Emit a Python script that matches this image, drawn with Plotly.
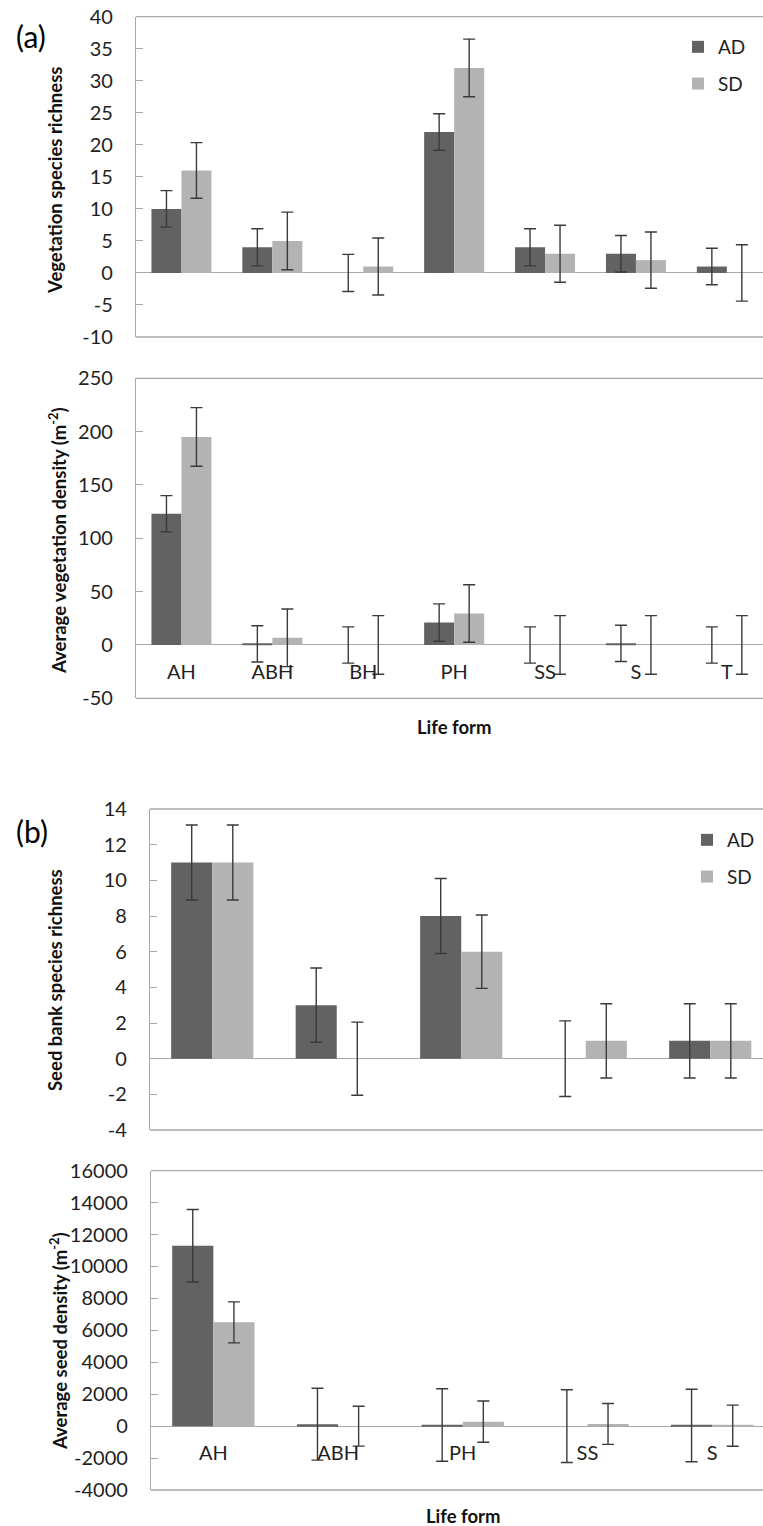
import plotly.graph_objects as go

W, H = 763, 1526
FONT = "Lato"
AD_COLOR = "#626262"
SD_COLOR = "#b3b3b3"
ERR_COLOR = "#3a3a3a"
FRAME = "#a8a8a8"
TICK_SIZE = 20
TITLE_SIZE = 18.5

# ---------------- data ----------------
series_names = ["AD", "SD"]

veg_forms = ["AH", "ABH", "BH", "PH", "SS", "S", "T"]
veg_rich_AD = [10, 4, 0, 22, 4, 3, 1]
veg_rich_AD_err = [2.85, 2.9, 2.9, 2.85, 2.9, 2.85, 2.85]
veg_rich_SD = [16, 5, 1, 32, 3, 2, 0]
veg_rich_SD_err = [4.35, 4.5, 4.45, 4.5, 4.45, 4.4, 4.4]
veg_rich_ticks = [-10, -5, 0, 5, 10, 15, 20, 25, 30, 35, 40]

veg_dens_AD = [123, 1, 0, 21, 0, 1.5, 0]
veg_dens_AD_err = [17, 17, 17, 17.5, 17, 17, 17]
veg_dens_SD = [195, 6.7, 0, 29.5, 0, 0, 0]
veg_dens_SD_err = [27.5, 27, 27.5, 27, 27.5, 27.5, 27.5]
veg_dens_ticks = [-50, 0, 50, 100, 150, 200, 250]

seed_forms = ["AH", "ABH", "PH", "SS", "S"]
seed_rich_AD = [11, 3, 8, 0, 1]
seed_rich_AD_err = [2.1, 2.08, 2.1, 2.12, 2.08]
seed_rich_SD = [11, 0, 6, 1, 1]
seed_rich_SD_err = [2.1, 2.05, 2.06, 2.08, 2.08]
seed_rich_ticks = [-4, -2, 0, 2, 4, 6, 8, 10, 12, 14]

seed_dens_AD = [11300, 120, 70, 0, 40]
seed_dens_AD_err = [2270, 2250, 2270, 2275, 2275]
seed_dens_SD = [6500, 0, 280, 140, 30]
seed_dens_SD_err = [1283, 1250, 1290, 1280, 1285]
seed_dens_ticks = [-4000, -2000, 0, 2000, 4000, 6000, 8000, 10000, 12000, 14000, 16000]

# ---------------- layout geometry (pixels) ----------------
panels = [
    dict(left=136, top=16.7, bottom=337, cats=veg_forms, ad=veg_rich_AD, ade=veg_rich_AD_err,
         sd=veg_rich_SD, sde=veg_rich_SD_err, ticks=veg_rich_ticks,
         title="Vegetation species richness", tcy=180, tcx=55, xlabels=False, legend="legend", catw=90.9),
    dict(left=136, top=378.3, bottom=698.3, cats=veg_forms, ad=veg_dens_AD, ade=veg_dens_AD_err,
         sd=veg_dens_SD, sde=veg_dens_SD_err, ticks=veg_dens_ticks,
         title="Average vegetation density (m<sup>-2</sup>)", tcy=541, tcx=57, xlabels=True, legend=None, catw=90.9),
    dict(left=150, top=809, bottom=1130, cats=seed_forms, ad=seed_rich_AD, ade=seed_rich_AD_err,
         sd=seed_rich_SD, sde=seed_rich_SD_err, ticks=seed_rich_ticks,
         title="Seed bank species richness", tcy=980, tcx=55, xlabels=False, legend="legend2", catw=124.5),
    dict(left=151, top=1170.7, bottom=1490, cats=seed_forms, ad=seed_dens_AD, ade=seed_dens_AD_err,
         sd=seed_dens_SD, sde=seed_dens_SD_err, ticks=seed_dens_ticks,
         title="Average seed density (m<sup>-2</sup>)", tcy=1341, tcx=58, xlabels=True, legend=None, catw=124.7),
]

fig = go.Figure()
annotations = []
shapes = []
layout = {}

for i, p in enumerate(panels, start=1):
    xa = "x" if i == 1 else f"x{i}"
    ya = "y" if i == 1 else f"y{i}"
    xkey = "xaxis" if i == 1 else f"xaxis{i}"
    ykey = "yaxis" if i == 1 else f"yaxis{i}"
    xdom = [p["left"] / W, 1.0]
    ydom = [1 - p["bottom"] / H, 1 - p["top"] / H]
    span = (W - p["left"]) / p["catw"]
    ymin, ymax = p["ticks"][0], p["ticks"][-1]
    zero_pos = ydom[0] + (0 - ymin) / (ymax - ymin) * (ydom[1] - ydom[0])

    for name, vals, errs, col in (("AD", p["ad"], p["ade"], AD_COLOR), ("SD", p["sd"], p["sde"], SD_COLOR)):
        tr = dict(
            x=p["cats"], y=vals, name=name, xaxis=xa, yaxis=ya,
            marker=dict(color=col, line=dict(width=0)),
            error_y=dict(type="data", array=errs, visible=True, color=ERR_COLOR, thickness=1.4, width=6),
            showlegend=p["legend"] is not None, legendgroup=f"{name}{i}",
            hoverinfo="skip",
        )
        if p["legend"]:
            tr["legend"] = p["legend"]
        fig.add_trace(go.Bar(**tr))

    layout[xkey] = dict(
        domain=xdom, anchor="free", position=zero_pos, type="category",
        categoryorder="array", categoryarray=p["cats"],
        range=[-0.5, -0.5 + span], showline=False, ticks="", showgrid=False, zeroline=False,
        showticklabels=p["xlabels"], tickfont=dict(family=FONT, size=TICK_SIZE, color="#1f1f1f"),
        ticklabelstandoff=13, fixedrange=True, automargin=False,
    )
    layout[ykey] = dict(
        domain=ydom, anchor=xa, range=[ymin, ymax], tickvals=p["ticks"],
        ticktext=[str(t) for t in p["ticks"]], ticks="inside", ticklen=7, tickcolor=FRAME,
        showline=True, linecolor=FRAME, linewidth=1.3, showgrid=False,
        zeroline=True, zerolinecolor=FRAME, zerolinewidth=1.3, automargin=False,
        tickfont=dict(family=FONT, size=TICK_SIZE, color="#1f1f1f"), ticklabelstandoff=18,
        fixedrange=True,
    )
    for yy in (0, 1):
        shapes.append(dict(type="line", xref=f"{xa} domain", yref=f"{ya} domain",
                           x0=0, x1=1, y0=yy, y1=yy, line=dict(color=FRAME, width=1.3)))
    annotations.append(dict(text=f"<b>{p['title']}</b>", textangle=-90, xref="paper", yref="paper",
                            x=p["tcx"] / W, y=1 - p["tcy"] / H, xanchor="center", yanchor="middle",
                            showarrow=False, font=dict(family=FONT, size=TITLE_SIZE, color="#111")))

for lx, ly in ((454, 727), (463, 1516)):
    annotations.append(dict(text="<b>Life form</b>", xref="paper", yref="paper", x=lx / W, y=1 - ly / H,
                            xanchor="center", yanchor="middle",
                            showarrow=False, font=dict(family=FONT, size=TITLE_SIZE, color="#111")))
for txt, lx, ly in (("(a)", 31, 36), ("(b)", 32, 831)):
    annotations.append(dict(text=txt, xref="paper", yref="paper", x=lx / W, y=1 - ly / H,
                            xanchor="center", yanchor="middle",
                            showarrow=False, font=dict(family=FONT, size=30, color="#000")))

legend_style = dict(font=dict(family=FONT, size=19, color="#1f1f1f"), bgcolor="rgba(0,0,0,0)",
                    tracegroupgap=9, itemclick=False, itemdoubleclick=False,
                    xanchor="left", yanchor="top", traceorder="grouped")

fig.update_layout(
    width=W, height=H, margin=dict(l=0, r=0, t=0, b=0, autoexpand=False),
    paper_bgcolor="white", plot_bgcolor="white",
    barmode="group", bargap=0.34, bargroupgap=0,
    font=dict(family=FONT, size=TICK_SIZE),
    annotations=annotations, shapes=shapes,
    legend=dict(x=678 / W, y=1 - 28 / H, **legend_style),
    legend2=dict(x=687 / W, y=1 - 821 / H, **legend_style),
    **layout,
)

fig.write_html("out.html", config={"displayModeBar": False},
               post_script="document.body.style.margin='0px';document.body.style.overflow='hidden';")
